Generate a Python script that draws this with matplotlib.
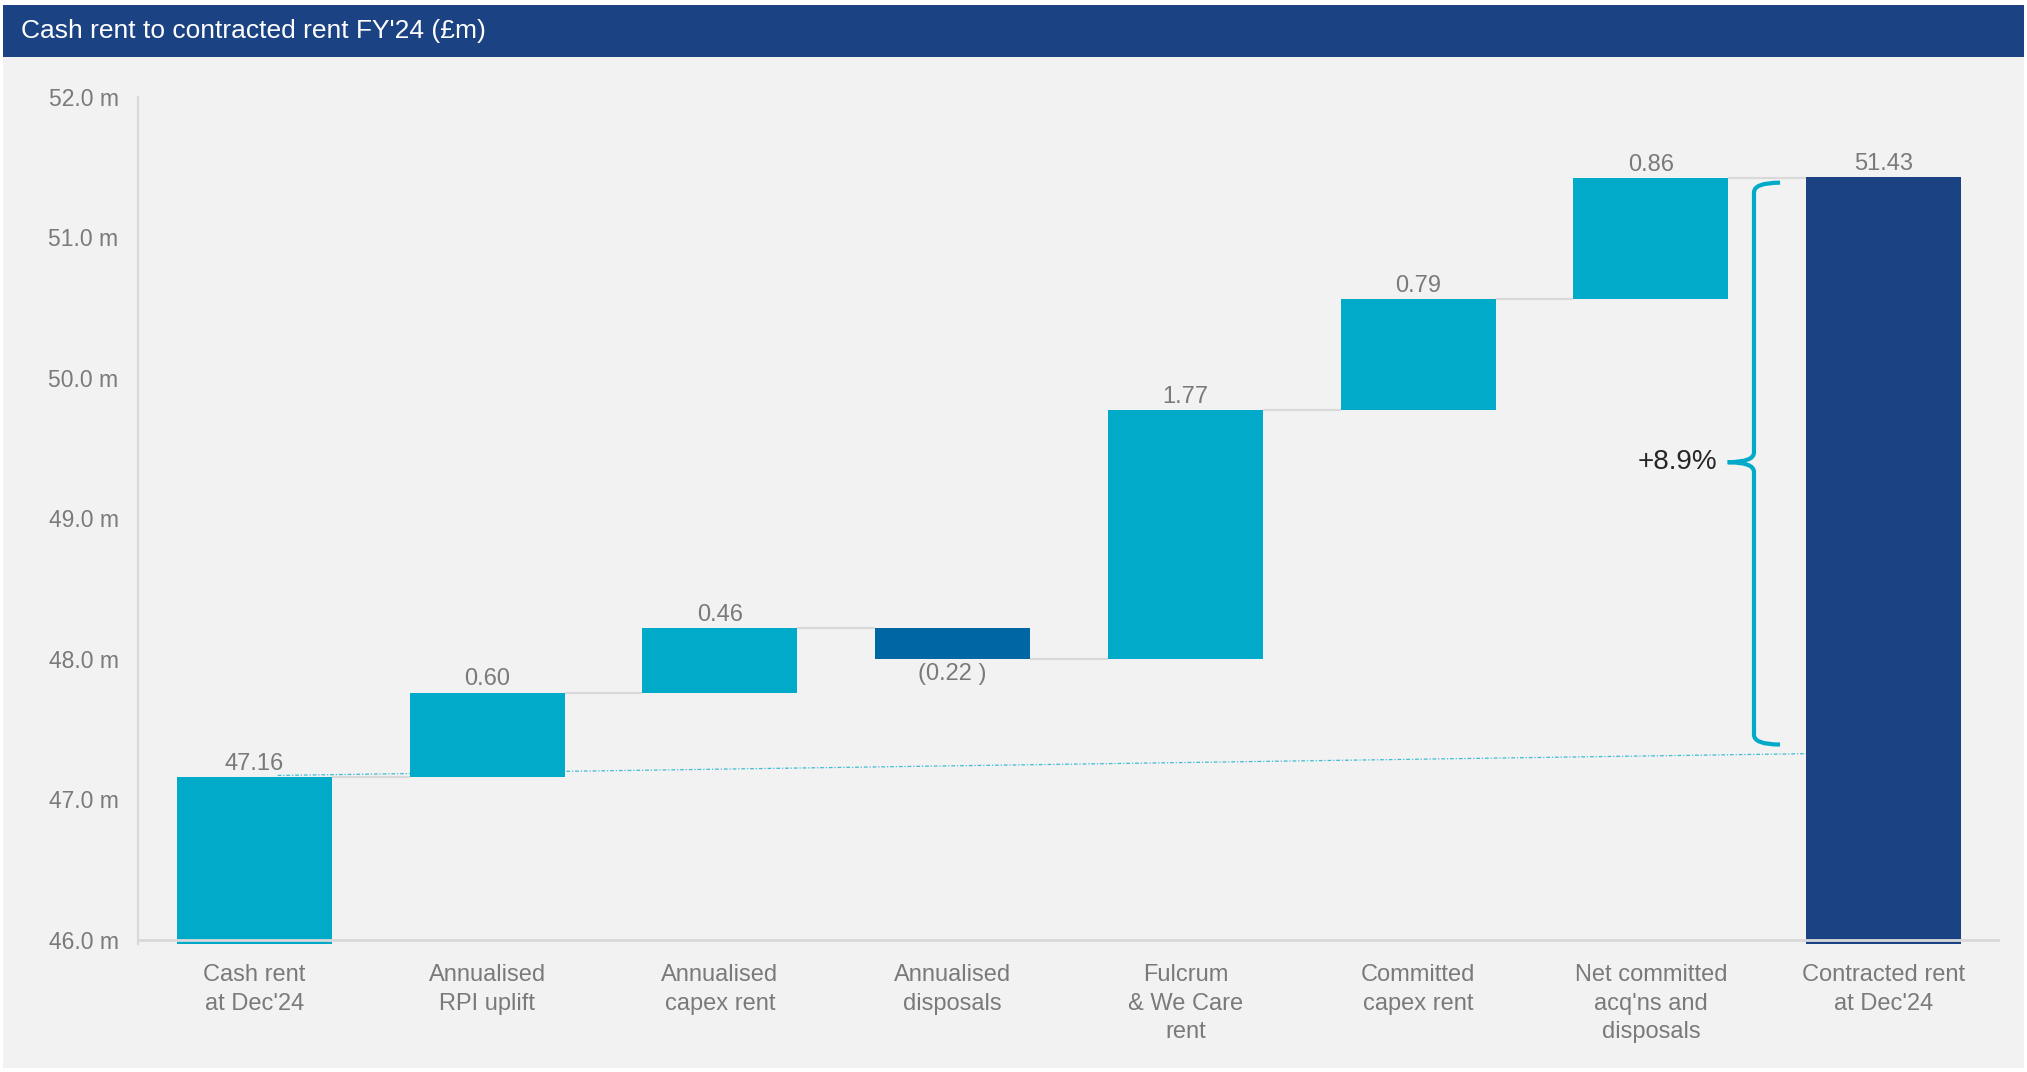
import matplotlib
matplotlib.use("Agg")
import matplotlib.pyplot as plt
from matplotlib.patches import Rectangle, PathPatch
from matplotlib.path import Path
from matplotlib.ticker import FuncFormatter

plt.rcParams['font.family'] = ['Liberation Sans', 'DejaVu Sans']

# ---------------- data ----------------
categories = ["Cash rent\nat Dec'24", "Annualised\nRPI uplift", "Annualised\ncapex rent",
              "Annualised\ndisposals", "Fulcrum\n& We Care\nrent", "Committed\ncapex rent",
              "Net committed\nacq'ns and\ndisposals", "Contracted rent\nat Dec'24"]
values = [47.16, 0.60, 0.46, -0.22, 1.77, 0.79, 0.86, 51.43]
kinds = ["total", "up", "up", "down", "up", "up", "up", "total"]
value_labels = ["47.16", "0.60", "0.46", "(0.22 )", "1.77", "0.79", "0.86", "51.43"]
y_ticks = [46.0, 47.0, 48.0, 49.0, 50.0, 51.0, 52.0]
growth_label = "+8.9%"
title = "Cash rent to contracted rent FY'24 (£m)"

# ---------------- styles ----------------
C_UP = "#00AAC8"
C_DOWN = "#0066A4"
C_TOTAL_LAST = "#1B4282"
C_TITLE = "#1B4282"
C_PANEL = "#F2F2F2"
C_GRID = "#D9D9D9"
C_TXT = "#7A7A7A"

W, H = 2027, 1072
fig = plt.figure(figsize=(W / 100, H / 100), dpi=100)
fig.patch.set_facecolor("white")

# panel & title bar
fig.patches.append(Rectangle((3 / W, 1 - 1068 / H), (2024 - 3) / W, (1068 - 57) / H,
                             transform=fig.transFigure, facecolor=C_PANEL, edgecolor="none", zorder=-10))
fig.patches.append(Rectangle((3 / W, 1 - 57 / H), (2024 - 3) / W, (57 - 5) / H,
                             transform=fig.transFigure, facecolor=C_TITLE, edgecolor="none", zorder=-10))
fig.text(21 / W, 1 - 31 / H, title, color="white", fontsize=19, va="center", ha="left")

ybot_lim = 45.97
ax = fig.add_axes([138 / W, 1 - 944 / H, (2000 - 138) / W, (944 - 97) / H])
ax.set_zorder(5)
ax.set_facecolor("none")
ax.set_xlim(-0.5, 7.5)
ax.set_ylim(ybot_lim, 52.0)

bw = 0.667
n = len(values)
bottoms, tops = [], []
level = 0.0
for i, (v, k) in enumerate(zip(values, kinds)):
    if k == "total":
        b, t = ybot_lim, v
        level = v
    else:
        b, t = (level, level + v) if v >= 0 else (level + v, level)
        level = level + v
    bottoms.append(b)
    tops.append(t)

colors = []
for i, k in enumerate(kinds):
    if k == "total":
        colors.append(C_TOTAL_LAST if i == n - 1 else C_UP)
    elif k == "up":
        colors.append(C_UP)
    else:
        colors.append(C_DOWN)

xs = list(range(n))
ax.bar(xs, [t - b for b, t in zip(bottoms, tops)], bottom=bottoms, width=bw,
       color=colors, edgecolor="none", zorder=2)

# connectors
running = []
level = 0.0
for v, k in zip(values, kinds):
    level = v if k == "total" else level + v
    running.append(level)
for i in range(n - 1):
    ax.plot([i + bw / 2, i + 1 - bw / 2], [running[i], running[i]], color=C_GRID, lw=1.6,
            zorder=1, solid_capstyle="butt")

# dotted trend line
ax.plot([0.1, 7 - bw / 2], [47.17, 47.325], color="#3FBBD3", lw=0.9, ls=(0, (3, 1.5, 1, 1.5)), zorder=1)

# value labels
for i, (lab, v) in enumerate(zip(value_labels, values)):
    if kinds[i] == "down":
        ax.annotate(lab, (i, bottoms[i]), xytext=(0, -3), textcoords="offset points",
                    ha="center", va="top", color=C_TXT, fontsize=17)
    else:
        ax.annotate(lab, (i, tops[i]), xytext=(0, 1.5), textcoords="offset points",
                    ha="center", va="bottom", color=C_TXT, fontsize=17)

# axes styling
for s in ["top", "right", "bottom"]:
    ax.spines[s].set_visible(False)
ax.spines["left"].set_color(C_GRID)
ax.spines["left"].set_linewidth(1.6)
ax.axhline(46.0, color=C_GRID, lw=2.0, zorder=3)
ax.set_yticks(y_ticks)
ax.yaxis.set_major_formatter(FuncFormatter(lambda v, p: f"{v:.1f} m"))
ax.tick_params(axis="y", length=0, pad=14, labelsize=16.5, labelcolor=C_TXT)
ax.set_xticks(xs)
ax.set_xticklabels(categories, linespacing=1.38)
ax.tick_params(axis="x", length=0, pad=14.5, labelsize=17, labelcolor=C_TXT)

# brace
x0, xr, xt = 6.443, 6.555, 6.33
ytop, ybot, ymid = 51.39, 47.39, 49.40
r = 0.07
verts = [(xr, ytop), (x0, ytop), (x0, ytop - r),
         (x0, ymid + r), (x0, ymid), (xt, ymid),
         (x0, ymid), (x0, ymid - r),
         (x0, ybot + r), (x0, ybot), (xr, ybot)]
codes = [Path.MOVETO, Path.CURVE3, Path.CURVE3,
         Path.LINETO, Path.CURVE3, Path.CURVE3,
         Path.CURVE3, Path.CURVE3,
         Path.LINETO, Path.CURVE3, Path.CURVE3]
ax.add_patch(PathPatch(Path(verts, codes), facecolor="none", edgecolor=C_UP, lw=3, zorder=4,
                       capstyle="butt"))
ax.text(6.285, ymid, growth_label, ha="right", va="center", fontsize=20, color="#262626")

fig.savefig("out.png", dpi=100, facecolor=fig.get_facecolor())
